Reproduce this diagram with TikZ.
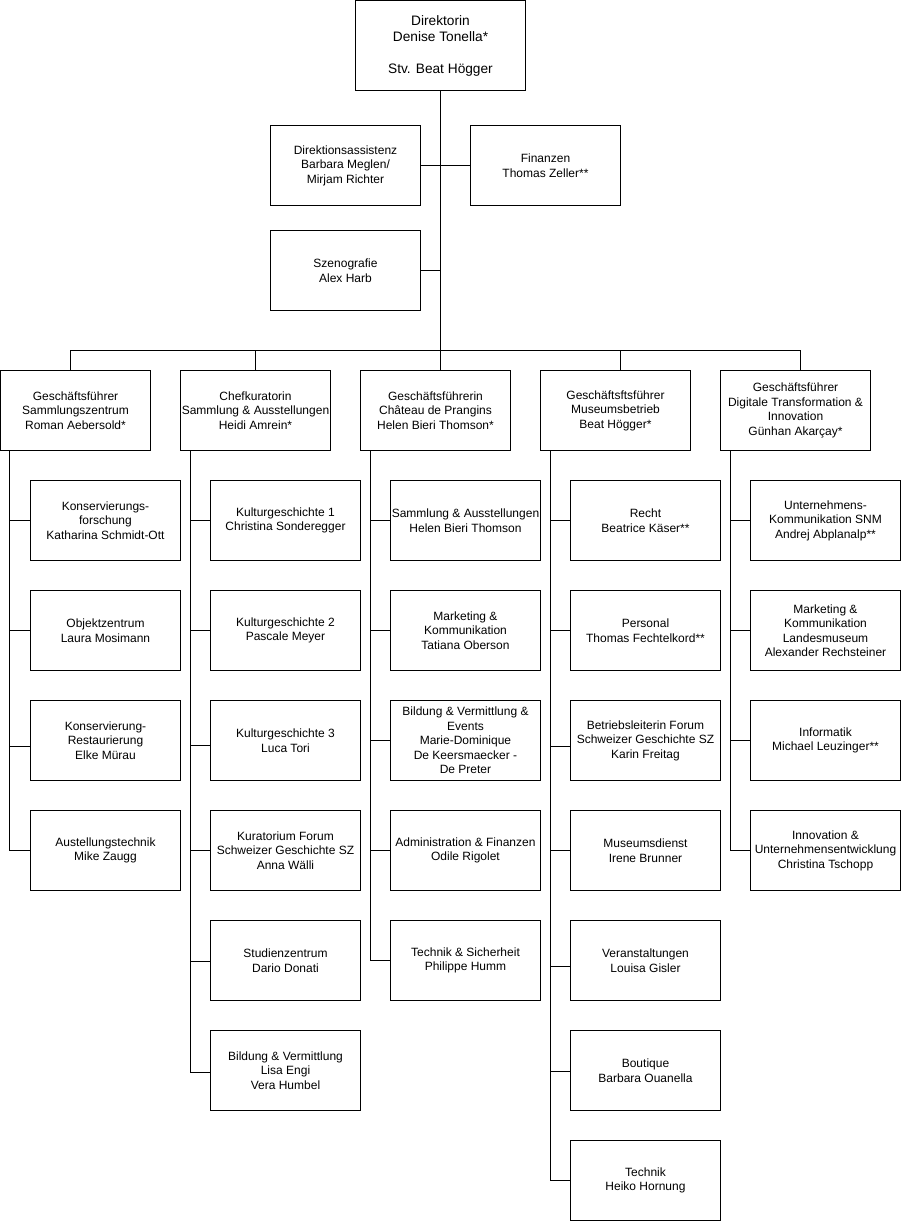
\documentclass[tikz,border=0pt]{standalone}
\usepackage{fontspec}
\setmainfont{Liberation Sans}
\begin{document}
\begin{tikzpicture}[x=1pt,y=-1pt,
  box/.style={draw=black,line width=1pt,rectangle,minimum width=150pt,minimum height=80pt,
    inner sep=0pt,align=center,font=\fontsize{12}{14.5}\selectfont},
  topbox/.style={box,minimum width=170pt,minimum height=90pt,font=\fontsize{13.7}{16}\selectfont},
  link/.style={draw=black,line width=1pt}]
\useasboundingbox (-0.5,-0.5) rectangle (900.5,1220.5);
\fill[white] (-0.5,-0.5) rectangle (900.5,1220.5);

% top
\node[topbox] (dir) at (440,45) {Direktorin\\Denise Tonella*\\[16pt]Stv. Beat Högger};
\node[box] (da) at (345,165) {Direktionsassistenz\\Barbara Meglen/\\Mirjam Richter};
\node[box] (fin) at (545,165) {Finanzen\\Thomas Zeller**};
\node[box] (sz) at (345,270) {Szenografie\\Alex Harb};

% level 2
\node[box] (g1) at (75,410) {Geschäftsführer\\Sammlungszentrum\\Roman Aebersold*};
\node[box] (g2) at (255,410) {Chefkuratorin\\Sammlung \& Ausstellungen\\Heidi Amrein*};
\node[box] (g3) at (435,410) {Geschäftsführerin\\Château de Prangins\\Helen Bieri Thomson*};
\node[box] (g4) at (615,410) {Geschäftsftsführer\\Museumsbetrieb\\Beat Högger*};
\node[box] (g5) at (795,410) {Geschäftsführer\\Digitale Transformation \&\\Innovation\\Günhan Akarçay*};

% column 1
\node[box] (a1) at (105,520) {Konservierungs-\\forschung\\Katharina Schmidt-Ott};
\node[box] (a2) at (105,630) {Objektzentrum\\Laura Mosimann};
\node[box] (a3) at (105,740) {Konservierung-\\Restaurierung\\Elke Mürau};
\node[box] (a4) at (105,850) {Austellungstechnik\\Mike Zaugg};

% column 2
\node[box] (b1) at (285,520) {Kulturgeschichte 1\\Christina Sonderegger};
\node[box] (b2) at (285,630) {Kulturgeschichte 2\\Pascale Meyer};
\node[box] (b3) at (285,740) {Kulturgeschichte 3\\Luca Tori};
\node[box] (b4) at (285,850) {Kuratorium Forum\\Schweizer Geschichte SZ\\Anna Wälli};
\node[box] (b5) at (285,960) {Studienzentrum\\Dario Donati};
\node[box] (b6) at (285,1070) {Bildung \& Vermittlung\\Lisa Engi\\Vera Humbel};

% column 3
\node[box] (c1) at (465,520) {Sammlung \& Ausstellungen\\Helen Bieri Thomson};
\node[box] (c2) at (465,630) {Marketing \&\\Kommunikation\\Tatiana Oberson};
\node[box] (c3) at (465,740) {Bildung \& Vermittlung \&\\Events\\Marie-Dominique\\De Keersmaecker -\\De Preter};
\node[box] (c4) at (465,850) {Administration \& Finanzen\\Odile Rigolet};
\node[box] (c5) at (465,960) {Technik \& Sicherheit\\Philippe Humm};

% column 4
\node[box] (d1) at (645,520) {Recht\\Beatrice Käser**};
\node[box] (d2) at (645,630) {Personal\\Thomas Fechtelkord**};
\node[box] (d3) at (645,740) {Betriebsleiterin Forum\\Schweizer Geschichte SZ\\Karin Freitag};
\node[box] (d4) at (645,850) {Museumsdienst\\Irene Brunner};
\node[box] (d5) at (645,960) {Veranstaltungen\\Louisa Gisler};
\node[box] (d6) at (645,1070) {Boutique\\Barbara Ouanella};
\node[box] (d7) at (645,1180) {Technik\\Heiko Hornung};

% column 5
\node[box] (e1) at (825,520) {Unternehmens-\\Kommunikation SNM\\Andrej Abplanalp**};
\node[box] (e2) at (825,630) {Marketing \&\\Kommunikation\\Landesmuseum\\Alexander Rechsteiner};
\node[box] (e3) at (825,740) {Informatik\\Michael Leuzinger**};
\node[box] (e4) at (825,850) {Innovation \&\\Unternehmensentwicklung\\Christina Tschopp};

% trunk and side boxes
\coordinate (bus) at (440,350);
\draw[link] (dir.south) -- (bus);
\draw[link] (da.east) -- (fin.west);
\draw[link] (sz.east) -- (sz.east -| dir.south);

% bus to level 2
\draw[link] ([xshift=-5pt]g1.north) |- (bus);
\draw[link] (g2.north) |- (bus);
\draw[link] ([xshift=5pt]g3.north) |- (bus);
\draw[link] ([xshift=5pt]g4.north) |- (bus);
\draw[link] ([xshift=5pt]g5.north) |- (bus);

% column connectors (shift > 0 moves the branch down)
\foreach \p/\c/\s in {g1/a1/0,g1/a2/0,g1/a3/6,g1/a4/0,
                      g2/b1/0,g2/b2/0,g2/b3/5,g2/b4/0,g2/b5/1,g2/b6/2,
                      g3/c1/0,g3/c2/0,g3/c3/0,g3/c4/0,g3/c5/0,
                      g4/d1/0,g4/d2/0,g4/d3/6,g4/d4/0,g4/d5/6,g4/d6/1,g4/d7/0,
                      g5/e1/0,g5/e2/0,g5/e3/0,g5/e4/0}
  \draw[link] ([xshift=10pt]\p.south west) |- ([yshift=-\s pt]\c.west);
\end{tikzpicture}
\end{document}
